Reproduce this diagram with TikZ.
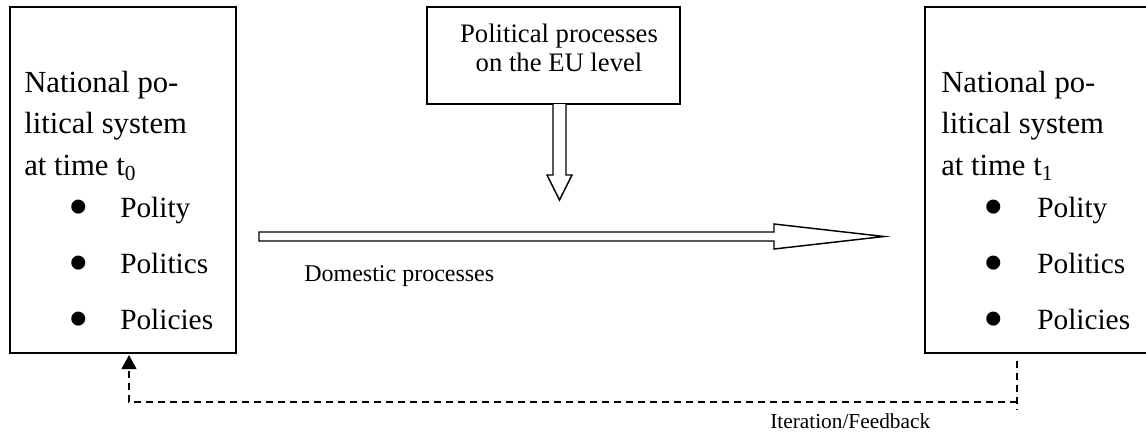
\documentclass[tikz,border=0pt]{standalone}
\usepackage{fontspec}
\setmainfont{Liberation Serif}
\usepackage{tikz}
\usetikzlibrary{arrows.meta,positioning}

\begin{document}
\begin{tikzpicture}[x=0.75pt, y=-0.75pt,
    sysbox/.style={draw, line width=1.5pt, minimum width=169.5pt, minimum height=259.5pt, inner sep=0pt},
    eubox/.style={draw, line width=1.5pt, minimum width=189.75pt, minimum height=72.75pt, inner sep=0pt},
    eutext/.style={align=center, inner sep=0pt, font=\fontsize{20}{22}\selectfont},
    head/.style={anchor=north west, inner sep=0pt, align=left, font=\fontsize{23}{31}\selectfont},
    item/.style={anchor=base west, inner sep=0pt, font=\fontsize{22}{26}\selectfont},
    dot/.style={inner sep=0pt, font=\fontsize{44}{44}\selectfont},
    blockarrow/.style={draw, line width=1.1pt, fill=white},
    label/.style={anchor=base west, inner sep=0pt},
    feedback/.style={line width=1.5pt, dash pattern=on 5pt off 4pt}]
    \useasboundingbox (0,0) rectangle (1146,436);

    % the two national systems and the EU box
    \node[sysbox] (nat0) at (123,180) {};
    \node[sysbox] (nat1) at (1038,180) {};
    \node[eubox] (eu) at (553.5,55.5) {};
    \node[eutext] (eutxt) at (559,48) {Political processes\\on the EU level};

    \node[head] (head0) at (24,71) {National po-\\litical system\\at time t\textsubscript{0}};
    \node[head] (head1) at (941,71) {National po-\\litical system\\at time t\textsubscript{1}};

    \foreach \txt/\y [count=\i] in {Polity/217, Politics/273, Policies/329} {
        \node[dot] (dotl\i) at (79,\y-4) {\textbullet};
        \node[item] (iteml\i) at (120,\y) {\txt};
        \node[dot] (dotr\i) at (994,\y-4) {\textbullet};
        \node[item] (itemr\i) at (1037,\y) {\txt};
    }

    % block arrows
    \draw[blockarrow] (553,104) -- (553,175) -- (547,175) -- (559.5,200) -- (572,175) -- (566,175) -- (566,104);
    \draw[blockarrow] (259,232) -- (774,232) -- (774,224) -- (884,236.5) -- (774,249) -- (774,241) -- (259,241) -- cycle;
    \node[label, font=\fontsize{18}{20}\selectfont] (domestic) at (304,281) {Domestic processes};

    % feedback loop
    \coordinate (fbtop) at (1017,361);
    \coordinate (fbend) at (1017,410);
    \coordinate (fbcorner) at (1017,402);
    \coordinate (fbtip) at (129,355);
    \draw[feedback] (fbtop) -- (fbend);
    \draw[feedback, -{Triangle[width=11pt,length=10.5pt]}] (fbcorner) -| (fbtip);
    \node[label, font=\fontsize{16}{18}\selectfont] (iter) at (770,428) {Iteration/Feedback};
\end{tikzpicture}
\end{document}
